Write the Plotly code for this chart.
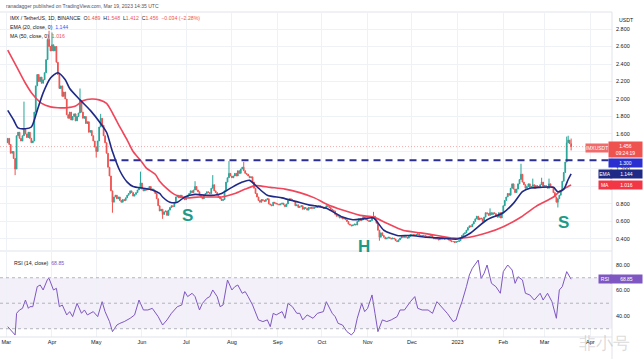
import pandas as pd
import plotly.graph_objects as go

# ---------------- data (daily IMX/USDT) ----------------
START = "2022-03-02"
close_2022_03 = [1.55, 1.48, 1.38, 1.40, 1.32, 1.20, 1.58, 1.62, 1.55, 1.52, 1.58, 1.65, 1.60, 1.56, 1.62,
                 1.55, 1.50, 1.52, 1.85, 2.15, 2.28, 2.20, 2.25, 2.18, 2.22, 2.30, 2.45, 2.68, 2.60, 2.55]
close_2022_04 = [2.62, 2.55, 2.60, 2.42, 2.28, 2.12, 2.15, 2.03, 2.08, 2.00, 1.82, 1.78, 1.85, 1.76, 1.80,
                 1.83, 1.75, 1.80, 1.84, 1.98, 1.85, 1.78, 1.80, 1.72, 1.74, 1.62, 1.64, 1.58, 1.52, 1.45]
close_2022_05 = [1.40, 1.52, 1.68, 1.78, 1.70, 1.58, 1.50, 1.38, 1.22, 1.12, 0.95, 0.82, 0.88, 0.90, 0.86,
                 0.88, 0.84, 0.82, 0.85, 0.84, 0.87, 0.90, 0.92, 0.95, 0.93, 0.89, 0.91, 0.93, 0.96, 0.98, 1.04]
close_2022_06 = [0.97, 0.95, 0.97, 0.96, 0.98, 1.00, 0.96, 0.97, 0.95, 0.92, 0.86, 0.78, 0.72, 0.74, 0.68,
                 0.71, 0.72, 0.67, 0.73, 0.76, 0.78, 0.77, 0.82, 0.88, 0.90, 0.87, 0.90, 0.88, 0.86, 0.85]
close_2022_07 = [0.88, 0.90, 0.92, 0.95, 0.93, 0.96, 1.00, 0.96, 0.94, 0.90, 0.88, 0.86, 0.90, 0.92, 0.94,
                 0.93, 0.92, 0.98, 1.02, 0.95, 0.93, 0.90, 0.88, 0.86, 0.84, 0.85, 0.95, 1.05, 1.10, 1.15, 1.12]
close_2022_08 = [1.10, 1.12, 1.15, 1.12, 1.18, 1.15, 1.20, 1.22, 1.18, 1.15, 1.14, 1.12, 1.10, 1.11, 1.05,
                 0.98, 0.92, 0.88, 0.84, 0.82, 0.85, 0.84, 0.83, 0.85, 0.86, 0.80, 0.79, 0.78, 0.82, 0.81, 0.80]
close_2022_09 = [0.80, 0.79, 0.80, 0.81, 0.79, 0.77, 0.80, 0.84, 0.86, 0.85, 0.84, 0.83, 0.78, 0.79, 0.76,
                 0.77, 0.78, 0.74, 0.76, 0.75, 0.73, 0.76, 0.75, 0.76, 0.75, 0.76, 0.76, 0.77, 0.78, 0.77]
close_2022_10 = [0.76, 0.75, 0.76, 0.78, 0.77, 0.76, 0.74, 0.73, 0.72, 0.68, 0.66, 0.67, 0.64, 0.65, 0.63,
                 0.64, 0.62, 0.60, 0.57, 0.56, 0.55, 0.56, 0.57, 0.56, 0.60, 0.63, 0.61, 0.62, 0.65, 0.63, 0.62]
close_2022_11 = [0.61, 0.60, 0.61, 0.64, 0.66, 0.62, 0.58, 0.50, 0.42, 0.47, 0.44, 0.42, 0.40, 0.41, 0.42,
                 0.41, 0.40, 0.41, 0.40, 0.38, 0.37, 0.39, 0.41, 0.43, 0.42, 0.43, 0.42, 0.41, 0.43, 0.45]
close_2022_12 = [0.44, 0.45, 0.44, 0.45, 0.46, 0.44, 0.43, 0.44, 0.44, 0.43, 0.43, 0.42, 0.43, 0.44, 0.42,
                 0.40, 0.41, 0.40, 0.39, 0.41, 0.40, 0.40, 0.40, 0.41, 0.40, 0.39, 0.38, 0.37, 0.37, 0.36, 0.37]
close_2023_01 = [0.37, 0.38, 0.40, 0.44, 0.46, 0.47, 0.50, 0.53, 0.55, 0.54, 0.57, 0.60, 0.63, 0.66, 0.62,
                 0.64, 0.63, 0.60, 0.65, 0.70, 0.69, 0.67, 0.70, 0.68, 0.70, 0.69, 0.66, 0.65, 0.70, 0.64, 0.70]
close_2023_02 = [0.78, 0.84, 0.88, 0.92, 0.90, 0.98, 1.03, 0.97, 0.93, 0.97, 1.03, 1.08, 1.14, 1.05, 1.02,
                 0.98, 1.00, 1.03, 0.99, 1.00, 1.02, 0.98, 1.01, 1.00, 0.99, 1.02, 1.05, 1.00]
close_2023_03 = [1.01, 1.00, 0.98, 1.03, 1.00, 0.99, 0.93, 0.88, 0.82, 0.86, 0.90, 0.95, 1.06, 1.16, 1.28,
                 1.50, 1.53, 1.489, 1.456]
first_open = 1.50

high_wicks = {"2022-03-13": 1.97, "2022-03-30": 2.78, "2022-04-01": 2.76, "2022-04-20": 2.12,
              "2022-05-04": 1.83, "2022-05-31": 1.17, "2022-07-07": 1.06, "2022-07-19": 1.13,
              "2022-07-30": 1.29, "2022-08-09": 1.28, "2022-10-29": 0.67, "2022-11-05": 0.71,
              "2023-01-23": 0.75, "2023-02-13": 1.26, "2023-02-21": 1.09, "2023-02-27": 1.10,
              "2023-03-04": 1.09, "2023-03-16": 1.57, "2023-03-17": 1.58, "2023-03-19": 1.548}
low_wicks = {"2022-03-07": 1.13, "2022-05-01": 1.33, "2022-05-12": 0.70, "2022-06-15": 0.63,
             "2022-11-09": 0.38, "2023-03-10": 0.76, "2023-03-19": 1.412}

# indicator lines (day offsets from 2022-03-02)
ema_day = [0, 4, 7, 12, 16, 20, 24, 29, 34, 39, 42, 49, 56, 63, 67, 71, 76, 81, 85, 92, 98, 103, 105, 110,
           115, 120, 127, 134, 140, 145, 152, 159, 164, 170, 176, 186, 195, 204, 208, 216, 227, 234, 241,
           248, 255, 264, 273, 284, 295, 305, 313, 325, 336, 343, 349, 354, 361, 370, 373, 377, 380, 382]
ema_val = [1.87, 1.76, 1.67, 1.66, 1.68, 1.87, 2.07, 2.24, 2.30, 2.22, 2.12, 1.99, 1.87, 1.72, 1.62, 1.40,
           1.18, 1.05, 1.00, 0.98, 0.96, 0.92, 0.88, 0.82, 0.82, 0.88, 0.91, 0.90, 0.90, 0.92, 0.99, 1.05,
           1.07, 0.98, 0.90, 0.87, 0.83, 0.79, 0.78, 0.75, 0.65, 0.62, 0.63, 0.64, 0.50, 0.44, 0.44, 0.42,
           0.41, 0.40, 0.46, 0.62, 0.70, 0.81, 0.94, 0.98, 0.99, 0.99, 0.94, 0.97, 1.08, 1.144]
ma_day = [0, 6, 12, 17, 23, 29, 34, 40, 46, 51, 57, 62, 67, 71, 76, 81, 85, 90, 94, 100, 103, 107, 113,
          120, 130, 140, 145, 154, 161, 168, 178, 188, 198, 208, 216, 227, 239, 248, 257, 268, 280, 291,
          302, 313, 325, 336, 347, 358, 370, 374, 380, 382]
ma_val = [2.56, 2.37, 2.18, 2.05, 1.95, 1.91, 1.90, 1.90, 1.92, 1.98, 2.00, 1.99, 1.95, 1.84, 1.68, 1.53,
          1.40, 1.30, 1.21, 1.14, 1.06, 0.99, 0.91, 0.87, 0.88, 0.88, 0.88, 0.92, 0.97, 1.01, 0.99, 0.97,
          0.93, 0.87, 0.80, 0.73, 0.67, 0.65, 0.58, 0.50, 0.47, 0.44, 0.41, 0.42, 0.47, 0.54, 0.64, 0.77,
          0.88, 0.94, 1.00, 1.016]
rsi_day = [0, 5, 6, 8, 10, 12, 14, 15, 17, 20, 22, 24, 27, 28, 31, 33, 35, 37, 40, 42, 44, 47, 50, 52, 54,
           58, 61, 64, 66, 69, 71, 74, 76, 79, 83, 86, 89, 92, 95, 98, 102, 105, 108, 111, 115, 118, 120,
           122, 125, 127, 130, 132, 135, 137, 139, 142, 144, 146, 149, 152, 154, 156, 159, 161, 163, 166,
           170, 173, 176, 178, 180, 182, 186, 188, 190, 193, 196, 198, 200, 203, 207, 210, 214, 216, 220,
           222, 224, 227, 230, 233, 235, 237, 240, 242, 244, 247, 249, 251, 254, 257, 260, 264, 266, 269,
           273, 276, 278, 281, 285, 288, 291, 295, 298, 302, 304, 306, 308, 311, 313, 315, 319, 321, 323,
           325, 328, 331, 334, 336, 339, 342, 344, 346, 349, 351, 354, 357, 361, 363, 366, 369, 371, 372,
           374, 376, 379, 382]
rsi_val = [31.6, 25.1, 42.1, 44.7, 46.0, 52.5, 46.0, 47.3, 47.3, 63.0, 64.3, 60.4, 68.8, 69.5, 60.4, 61.7,
           47.3, 48.6, 40.8, 43.4, 39.5, 49.9, 42.1, 44.7, 40.8, 43.4, 39.5, 51.2, 43.4, 35.6, 27.7, 32.9,
           34.2, 35.6, 38.2, 40.8, 52.5, 44.7, 44.7, 46.0, 39.5, 32.9, 36.9, 42.1, 47.3, 48.6, 59.1, 55.2,
           57.8, 55.2, 44.7, 49.9, 53.9, 55.2, 60.4, 55.2, 47.3, 48.6, 68.2, 60.4, 63.0, 64.3, 57.8, 59.1,
           55.2, 48.6, 36.9, 35.6, 36.9, 31.6, 42.1, 40.8, 43.4, 38.2, 49.9, 47.3, 42.1, 42.1, 36.9, 40.8,
           38.2, 42.1, 43.4, 51.2, 42.1, 39.5, 34.2, 32.9, 27.7, 25.1, 27.7, 38.2, 49.9, 43.4, 46.0, 56.5,
           42.1, 27.7, 36.9, 35.6, 36.9, 39.5, 44.7, 44.7, 51.2, 55.2, 46.0, 44.7, 44.7, 42.1, 51.2, 46.0,
           42.1, 35.6, 36.9, 44.7, 51.2, 63.0, 72.2, 77.4, 83.9, 69.5, 73.5, 80.0, 65.6, 63.0, 57.8, 74.8,
           80.0, 76.1, 65.6, 70.8, 68.2, 57.8, 56.5, 52.5, 57.8, 52.5, 57.8, 51.2, 40.8, 38.2, 60.4, 63.0,
           74.8, 68.85]

neckline = 1.30
neckline_start = "2022-05-10"
last_price = 1.456
price_ticks = [0.4, 0.6, 0.8, 1.0, 1.2, 1.4, 1.6, 1.8, 2.0, 2.2, 2.4, 2.6, 2.8]
rsi_ticks = [40, 60, 80]
month_ticks = ["2022-03-01", "2022-04-01", "2022-05-01", "2022-06-01", "2022-07-01", "2022-08-01",
               "2022-09-01", "2022-10-01", "2022-11-01", "2022-12-01", "2023-01-01", "2023-02-01",
               "2023-03-01", "2023-04-01"]
month_labels = ["Mar", "Apr", "May", "Jun", "Jul", "Aug", "Sep", "Oct", "Nov", "Dec", "2023", "Feb",
                "Mar", "Apr"]

# ---------------- build series ----------------
closes = (close_2022_03 + close_2022_04 + close_2022_05 + close_2022_06 + close_2022_07 + close_2022_08 +
          close_2022_09 + close_2022_10 + close_2022_11 + close_2022_12 + close_2023_01 + close_2023_02 +
          close_2023_03)
base = pd.Timestamp(START)
dates = pd.date_range(START, periods=len(closes), freq="D")
opens = [first_open] + closes[:-1]
keys = [d.strftime("%Y-%m-%d") for d in dates]
highs = [high_wicks.get(k, max(o, c)) for k, o, c in zip(keys, opens, closes)]
lows = [low_wicks.get(k, min(o, c)) for k, o, c in zip(keys, opens, closes)]

def to_dates(days):
    return [base + pd.Timedelta(days=d) for d in days]

# ---------------- layout geometry ----------------
W, H = 643, 359
ML, MR, MT, MB = 0, 31, 13, 22
PW, PH = W - ML - MR, H - MT - MB

def px(x, y):
    return (x - ML) / PW, (H - MB - y) / PH

FONT = "Liberation Sans, Arial, sans-serif"
GREEN, RED = "#26a69a", "#ef5350"
EMA_C, MA_C, RSI_C = "#1f2a86", "#f0455a", "#7e57c2"

fig = go.Figure()
fig.add_trace(go.Candlestick(
    x=dates, open=opens, high=highs, low=lows, close=closes,
    increasing=dict(line=dict(color=GREEN, width=1), fillcolor=GREEN),
    decreasing=dict(line=dict(color=RED, width=1), fillcolor=RED),
    whiskerwidth=0, showlegend=False, hoverinfo="skip", xaxis="x", yaxis="y"))
fig.add_trace(go.Scatter(x=to_dates(ma_day), y=ma_val, mode="lines", showlegend=False,
                         line=dict(color=MA_C, width=1.6, shape="spline", smoothing=0.7),
                         xaxis="x", yaxis="y", hoverinfo="skip"))
fig.add_trace(go.Scatter(x=to_dates(ema_day), y=ema_val, mode="lines", showlegend=False,
                         line=dict(color=EMA_C, width=1.6, shape="spline", smoothing=0.7),
                         xaxis="x", yaxis="y", hoverinfo="skip"))
fig.add_trace(go.Scatter(x=to_dates(rsi_day), y=rsi_val, mode="lines", showlegend=False,
                         line=dict(color=RSI_C, width=1), xaxis="x", yaxis="y2", hoverinfo="skip"))

price_bot = px(0, 250)[1]
rsi_top = px(0, 252)[1]
grid = "#eef1f6"
fig.update_layout(
    template="none",
    width=W, height=H, margin=dict(l=ML, r=MR, t=MT, b=MB, autoexpand=False),
    paper_bgcolor="white", plot_bgcolor="white", font=dict(family=FONT, color="#131722"),
    xaxis=dict(type="date", range=["2022-02-24 18:00", "2023-04-15 17:00"], anchor="y2",
               tickvals=month_ticks, ticktext=month_labels, showgrid=True, gridcolor=grid, gridwidth=1,
               tickfont=dict(size=5.5, color="#131722"), zeroline=False, showline=False,
               rangeslider=dict(visible=False), ticks="", automargin=False),
    yaxis=dict(domain=[price_bot, 1], range=[0.274, 2.983], side="right", anchor="x",
               tickvals=price_ticks, ticktext=[f"{v:.3f}" for v in price_ticks],
               tickfont=dict(size=5.5, color="#131722"), showgrid=True, gridcolor=grid, gridwidth=1,
               zeroline=False, showline=False, ticks="", ticklabelstandoff=3, automargin=False),
    yaxis2=dict(domain=[0, rsi_top], range=[23.5, 90.2], side="right", anchor="x",
                tickvals=rsi_ticks, ticktext=[f"{v:.2f}" for v in rsi_ticks],
                tickfont=dict(size=5.5, color="#131722"), showgrid=False, zeroline=False,
                showline=False, ticks="", ticklabelstandoff=3, automargin=False),
)

shapes = []
# RSI band and levels
shapes.append(dict(type="rect", xref="paper", x0=0, x1=1, yref="y2", y0=30, y1=70,
                   fillcolor="rgba(126,87,194,0.09)", line=dict(width=0), layer="below"))
for lv in (70, 50, 30):
    shapes.append(dict(type="line", xref="paper", x0=0, x1=1, yref="y2", y0=lv, y1=lv,
                       line=dict(color="#9598a1", width=0.7, dash="3px,3px")))
# pane borders
for yy in (251, 12, 337):
    shapes.append(dict(type="line", xref="paper", yref="paper", x0=0, x1=1,
                       y0=px(0, yy)[1], y1=px(0, yy)[1], line=dict(color="#e0e3eb", width=1)))
shapes.append(dict(type="line", xref="paper", yref="paper", x0=1, x1=1, y0=px(0, 359)[1],
                   y1=px(0, 12)[1], line=dict(color="#e0e3eb", width=1)))
# last price dotted line
shapes.append(dict(type="line", xref="paper", x0=0, x1=1, yref="y", y0=last_price, y1=last_price,
                   line=dict(color="rgba(239,83,80,0.6)", width=0.8, dash="1px,2px")))
# neckline
shapes.append(dict(type="line", xref="x", x0=neckline_start, x1="2023-06-01", yref="y",
                   y0=neckline, y1=neckline, line=dict(color="#2b2f93", width=2, dash="7px,5px")))
fig.update_layout(shapes=shapes)

ann = []
def text(t, x, y, size=5.2, color="#131722", xanchor="left", **kw):
    xp, yp = px(x, y)
    ann.append(dict(text=t, x=xp, y=yp, xref="paper", yref="paper", showarrow=False,
                    xanchor=xanchor, yanchor="middle", font=dict(size=size, color=color, family=FONT), **kw))

def red(s):
    return f"<span style='color:{RED}'>{s}</span>"

text("ranadagger published on TradingView.com, Mar 19, 2023 14:35 UTC", 4, 6, size=5, color="#50535e")
text("IMX / TetherUS, 1D, BINANCE  O" + red("1.489") + "  H" + red("1.548") + "  L" + red("1.412") +
     "  C" + red("1.456") + "  " + red("\u22120.034 (\u22122.28%)"), 8, 18)
text("EMA (20, close, 0)  <span style='color:#2962ff'>1.144</span>", 8, 27)
text("MA (50, close, 0)  " + red("1.016"), 8, 36)
text("RSI (14, close)  <span style='color:#7e57c2'>68.85</span>", 12, 263)
text("USDT", 617, 20, size=5.2)

# pattern letters
for letter, x, y in (("S", 187, 215), ("H", 364, 246), ("S", 563, 222)):
    text("<b>" + letter + "</b>", x, y, size=17, color="#1f9a86", xanchor="center")

# watermark
text("非小号", 604, 343, size=17, color="rgba(150,150,150,0.35)", xanchor="center")

def tag(t, x0, x1, yref, yval, bg, yshift=0, h=8, size=5):
    ann.append(dict(text=t, x=px(x0, 0)[0], y=yval, xref="paper", yref=yref, showarrow=False,
                    xanchor="left", yanchor="middle", width=x1 - x0, height=h, borderpad=0,
                    bgcolor=bg, align="center", yshift=yshift,
                    font=dict(size=size, color="white", family=FONT)))

tag("IMXUSDT", 585, 607, "y", last_price, "#f06b6b", yshift=-1)
tag("1.456<br>09:24:19", 608, 641, "y", last_price, RED, yshift=-3, h=15)
tag("1.300", 608, 641, "y", neckline, "#2b2fd0", yshift=-3)
tag("EMA", 598, 610, "y", 1.144, "#1f2a86")
tag("1.144", 610, 641, "y", 1.144, "#1f2a86")
tag("MA", 598, 610, "y", 1.016, "#f23645")
tag("1.016", 610, 641, "y", 1.016, "#f23645")
tag("RSI", 598, 610, "y2", 68.85, RSI_C)
tag("68.85", 610, 641, "y2", 68.85, RSI_C)
fig.update_layout(annotations=ann)

fig.write_html("out.html", config={"displayModeBar": False, "staticPlot": True},
               post_script="document.body.style.margin='0';document.body.style.overflow='hidden';")
